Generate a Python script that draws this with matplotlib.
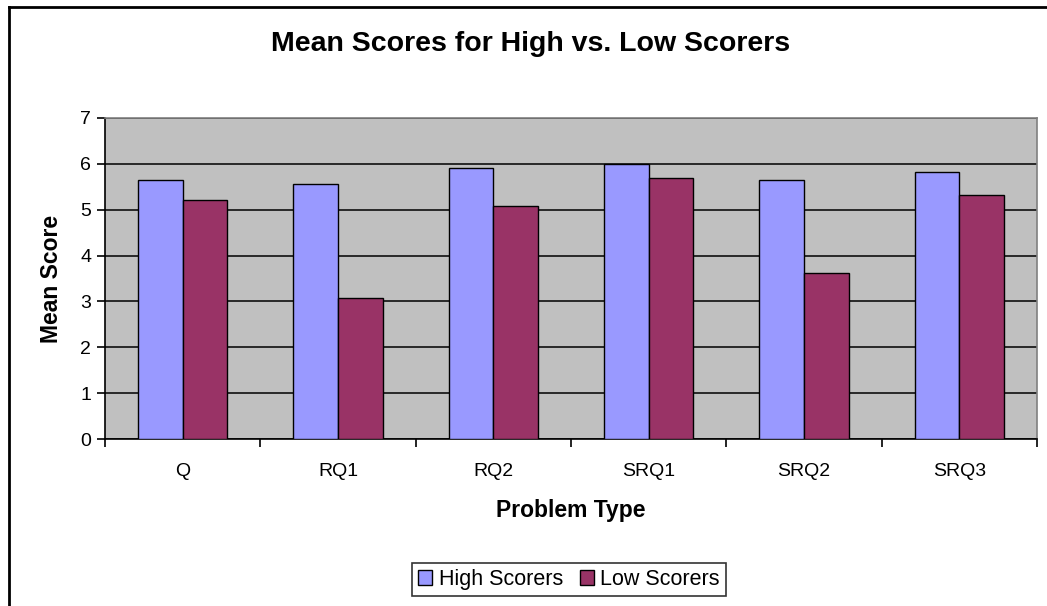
import matplotlib
matplotlib.use("Agg")
import matplotlib.pyplot as plt
import numpy as np
from matplotlib.lines import Line2D

categories = ["Q", "RQ1", "RQ2", "SRQ1", "SRQ2", "SRQ3"]
high_scorers = [5.65, 5.57, 5.91, 6.0, 5.65, 5.83]
low_scorers = [5.22, 3.08, 5.09, 5.69, 3.62, 5.31]
yticks = [0, 1, 2, 3, 4, 5, 6, 7]

plt.rcParams['font.family'] = ['Liberation Sans', 'DejaVu Sans']

W, H = 1047, 606
fig = plt.figure(figsize=(W / 100, H / 100), dpi=100)
fig.patch.set_facecolor('white')

left, right, top, bottom = 105, 1037, 118, 439
ax = fig.add_axes([left / W, 1 - bottom / H, (right - left) / W, (bottom - top) / H])
ax.set_facecolor('#C0C0C0')

x = np.arange(len(categories))
bw = 0.288
ax.bar(x - bw / 2, high_scorers, bw, color='#9999FF', edgecolor='black', linewidth=1.0,
       label='High Scorers', zorder=3)
ax.bar(x + bw / 2, low_scorers, bw, color='#993366', edgecolor='black', linewidth=1.0,
       label='Low Scorers', zorder=3)

ax.set_xlim(-0.5, len(categories) - 0.5)
ax.set_ylim(0, 7)
ax.set_yticks(yticks)
ax.set_yticklabels([str(v) for v in yticks], fontsize=14)
ax.yaxis.grid(True, color='black', linewidth=1.1, zorder=1)
ax.set_axisbelow(True)

# category labels at centers, tick marks at boundaries
ax.set_xticks(np.arange(-0.5, len(categories), 1.0))
ax.set_xticklabels([])
ax.set_xticks(x, minor=True)
ax.set_xticklabels(categories, minor=True, fontsize=14)
ax.tick_params(axis='x', which='minor', length=0, pad=17)
ax.tick_params(axis='x', which='major', direction='out', length=6, width=1.2, color='black')
ax.tick_params(axis='y', direction='out', length=6, width=1.2, color='black', pad=4)

for s in ['top', 'right']:
    ax.spines[s].set_color('#808080')
    ax.spines[s].set_linewidth(1.2)
for s in ['left', 'bottom']:
    ax.spines[s].set_color('black')
    ax.spines[s].set_linewidth(1.2)

ax.set_xlabel('Problem Type', fontsize=16.5, fontweight='bold', labelpad=14)
ax.set_ylabel('Mean Score', fontsize=16.5, fontweight='bold', labelpad=12)

fig.text(531 / W, 1 - 44 / H, 'Mean Scores for High vs. Low Scorers', ha='center', va='center',
         fontsize=20.5, fontweight='bold')

leg = fig.legend(loc='center', bbox_to_anchor=(569 / W, 1 - 579.5 / H), ncol=2, fontsize=15.5,
                 frameon=True, fancybox=False, edgecolor='black', handlelength=0.65,
                 handleheight=0.65, handletextpad=0.3, columnspacing=0.8, borderpad=0.3,
                 borderaxespad=0)
leg.get_frame().set_linewidth(1.2)

# outer chart border (left and top)
fig.add_artist(Line2D([9 / W, 9 / W], [0, 1 - 7 / H], color='black', linewidth=2, transform=fig.transFigure))
fig.add_artist(Line2D([9 / W, 1], [1 - 7 / H, 1 - 7 / H], color='black', linewidth=2, transform=fig.transFigure))

fig.savefig('out.png', dpi=100, facecolor='white')
